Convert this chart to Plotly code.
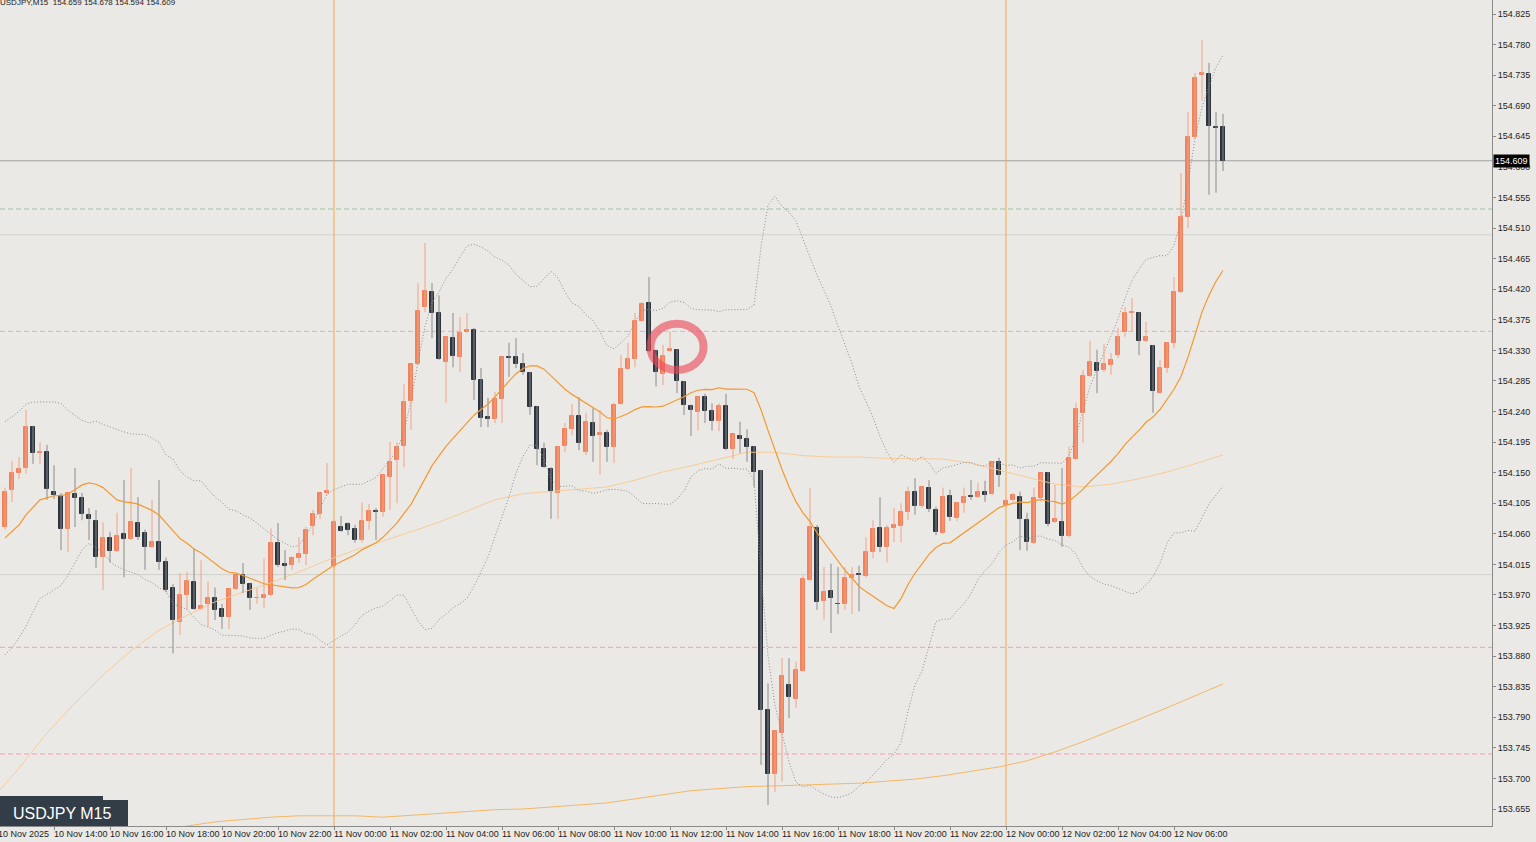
import numpy as np
import pandas as pd
import plotly.graph_objects as go

header = "USDJPY,M15  154.659 154.678 154.594 154.609"
badge = "USDJPY M15"
first_bar = "2025-11-10 12:15"
bar_minutes = 15

opens = [
    154.070, 154.125, 154.149, 154.157, 154.217, 154.179, 154.180, 154.122, 154.116, 154.067,
    154.119, 154.113, 154.088, 154.079, 154.026, 154.054, 154.035, 154.060, 154.052, 154.076,
    154.061, 154.041, 154.048, 154.019, 153.981, 153.930, 153.970, 153.989, 153.949, 153.957,
    153.966, 153.949, 153.937, 153.979, 153.999, 153.986, 153.965, 153.966, 153.970, 154.047,
    154.016, 154.014, 154.024, 154.030, 154.072, 154.089, 154.120,
    154.013, 154.070, 154.075, 154.067, 154.051, 154.079, 154.094, 154.092, 154.144, 154.169,
    154.189, 154.255, 154.310, 154.394, 154.416, 154.385, 154.313, 154.348, 154.320, 154.357,
    154.360, 154.286, 154.232, 154.229, 154.258, 154.320, 154.320, 154.310, 154.297, 154.247,
    154.185, 154.155, 154.120, 154.189, 154.214, 154.233, 154.180, 154.223, 154.205, 154.208,
    154.188, 154.251, 154.303, 154.317, 154.373, 154.400, 154.329, 154.295, 154.329, 154.331,
    154.283, 154.248, 154.239, 154.261, 154.241, 154.226, 154.248, 154.185, 154.204, 154.200,
    154.188, 154.152, 153.801, 153.707, 153.767, 153.837, 153.817, 153.858, 153.992, 154.069,
    153.961, 153.976, 153.957, 153.956, 153.995, 154.001, 153.998, 154.033, 154.069, 154.041,
    154.069, 154.072, 154.092, 154.122, 154.101, 154.128, 154.095, 154.061, 154.116, 154.083,
    154.105, 154.116, 154.114, 154.122, 154.119, 154.166, 154.102, 154.110, 154.114, 154.080,
    154.047, 154.113, 154.149, 154.077, 154.077, 154.057, 154.170, 154.238, 154.292, 154.311,
    154.301, 154.308, 154.323, 154.357, 154.385, 154.385, 154.344, 154.336, 154.267, 154.304,
    154.341, 154.416, 154.526, 154.644, 154.735, 154.737, 154.659, 154.659,
]
highs = [
    154.128, 154.167, 154.173, 154.242, 154.219, 154.195, 154.191, 154.161, 154.120, 154.120,
    154.157, 154.120, 154.098, 154.095, 154.077, 154.063, 154.091, 154.139, 154.157, 154.114,
    154.066, 154.110, 154.139, 154.025, 153.986, 154.002, 154.004, 154.039, 154.021, 153.990,
    153.981, 153.957, 153.979, 153.999, 154.017, 153.988, 153.980, 154.024, 154.068, 154.076,
    154.036, 154.027, 154.055, 154.070, 154.095, 154.120, 154.164,
    154.080, 154.086, 154.077, 154.073, 154.106, 154.104, 154.098, 154.147, 154.195, 154.195,
    154.280, 154.310, 154.429, 154.488, 154.429, 154.411, 154.350, 154.385, 154.379, 154.385,
    154.363, 154.304, 154.260, 154.269, 154.320, 154.341, 154.348, 154.326, 154.298, 154.248,
    154.194, 154.158, 154.188, 154.223, 154.251, 154.261, 154.238, 154.245, 154.242, 154.213,
    154.253, 154.323, 154.341, 154.385, 154.401, 154.438, 154.331, 154.338, 154.357, 154.332,
    154.285, 154.250, 154.261, 154.266, 154.252, 154.252, 154.266, 154.207, 154.225, 154.214,
    154.189, 154.154, 153.840, 153.770, 153.877, 153.877, 153.872, 153.999, 154.127, 154.073,
    154.011, 154.016, 154.011, 154.011, 154.011, 154.013, 154.055, 154.080, 154.114, 154.073,
    154.098, 154.105, 154.129, 154.142, 154.129, 154.139, 154.100, 154.128, 154.125, 154.107,
    154.128, 154.139, 154.135, 154.138, 154.166, 154.172, 154.111, 154.120, 154.122, 154.091,
    154.128, 154.149, 154.151, 154.132, 154.157, 154.188, 154.253, 154.301, 154.344, 154.331,
    154.339, 154.326, 154.363, 154.394, 154.407, 154.386, 154.372, 154.338, 154.316, 154.341,
    154.438, 154.591, 154.681, 154.738, 154.787, 154.753, 154.681, 154.678,
]
lows = [
    154.066, 154.107, 154.141, 154.149, 154.163, 154.163, 154.110, 154.111, 154.036, 154.033,
    154.070, 154.080, 154.051, 154.010, 153.977, 154.018, 154.033, 153.996, 154.051, 154.051,
    154.007, 154.039, 154.007, 153.974, 153.884, 153.911, 153.948, 153.948, 153.948, 153.923,
    153.933, 153.920, 153.920, 153.977, 153.973, 153.948, 153.957, 153.951, 153.968, 154.011,
    153.992, 154.007, 154.017, 154.014, 154.058, 154.082, 154.117,
    154.010, 154.063, 154.058, 154.047, 154.047, 154.066, 154.051, 154.085, 154.095, 154.105,
    154.158, 154.213, 154.309, 154.386, 154.348, 154.316, 154.253, 154.305, 154.298, 154.356,
    154.257, 154.217, 154.217, 154.223, 154.223, 154.291, 154.304, 154.294, 154.235, 154.161,
    154.157, 154.082, 154.082, 154.180, 154.205, 154.183, 154.176, 154.166, 154.147, 154.166,
    154.164, 154.250, 154.301, 154.305, 154.372, 154.328, 154.277, 154.279, 154.328, 154.267,
    154.235, 154.204, 154.212, 154.223, 154.212, 154.211, 154.183, 154.170, 154.179, 154.166,
    154.129, 153.720, 153.661, 153.680, 153.695, 153.789, 153.804, 153.857, 153.990, 153.948,
    153.934, 153.914, 153.942, 153.948, 153.942, 153.946, 153.996, 154.024, 154.033, 154.018,
    154.048, 154.047, 154.080, 154.088, 154.098, 154.092, 154.058, 154.060, 154.079, 154.079,
    154.091, 154.110, 154.113, 154.107, 154.117, 154.129, 154.099, 154.107, 154.036, 154.035,
    154.045, 154.107, 154.071, 154.076, 154.041, 154.055, 154.169, 154.194, 154.291, 154.267,
    154.298, 154.294, 154.319, 154.350, 154.357, 154.323, 154.342, 154.238, 154.266, 154.297,
    154.333, 154.414, 154.510, 154.642, 154.698, 154.559, 154.562, 154.594,
]
closes = [
    154.122, 154.149, 154.155, 154.217, 154.179, 154.180, 154.126, 154.117, 154.067, 154.120,
    154.113, 154.089, 154.082, 154.026, 154.054, 154.035, 154.057, 154.052, 154.077, 154.055,
    154.041, 154.048, 154.019, 153.978, 153.933, 153.970, 153.990, 153.949, 153.954, 153.966,
    153.948, 153.937, 153.979, 153.999, 153.986, 153.965, 153.966, 153.970, 154.047, 154.014,
    154.013, 154.024, 154.030, 154.066, 154.089, 154.120, 154.123,
    154.077, 154.064, 154.066, 154.051, 154.079, 154.094, 154.092, 154.147, 154.166, 154.188,
    154.254, 154.310, 154.388, 154.417, 154.385, 154.317, 154.350, 154.322, 154.356, 154.360,
    154.286, 154.231, 154.229, 154.258, 154.320, 154.319, 154.310, 154.298, 154.247, 154.185,
    154.158, 154.123, 154.188, 154.214, 154.233, 154.194, 154.224, 154.204, 154.208, 154.188,
    154.250, 154.303, 154.317, 154.373, 154.398, 154.329, 154.298, 154.322, 154.332, 154.285,
    154.250, 154.242, 154.261, 154.241, 154.226, 154.248, 154.185, 154.207, 154.200, 154.188,
    154.151, 153.801, 153.707, 153.770, 153.851, 153.820, 153.860, 153.993, 154.070, 153.960,
    153.974, 153.965, 153.956, 153.995, 153.999, 153.999, 154.033, 154.067, 154.041, 154.069,
    154.073, 154.092, 154.122, 154.101, 154.129, 154.097, 154.063, 154.114, 154.085, 154.105,
    154.114, 154.114, 154.122, 154.117, 154.166, 154.147, 154.108, 154.117, 154.082, 154.048,
    154.113, 154.149, 154.074, 154.082, 154.057, 154.172, 154.244, 154.292, 154.313, 154.300,
    154.310, 154.316, 154.350, 154.385, 154.386, 154.344, 154.350, 154.270, 154.304, 154.341,
    154.416, 154.526, 154.644, 154.731, 154.738, 154.660, 154.657, 154.609,
]

# Bollinger band values for the first 19 visible bars (history before them is off-screen)
bb_head_upper = [154.225, 154.233, 154.240, 154.251, 154.254, 154.254, 154.254, 154.254, 154.252, 154.242,
                 154.234, 154.227, 154.223, 154.226, 154.221, 154.217, 154.213, 154.210, 154.207]
bb_head_mid = [154.054, 154.063, 154.073, 154.088, 154.099, 154.110, 154.113, 154.116, 154.116, 154.119,
               154.125, 154.132, 154.135, 154.133, 154.128, 154.119, 154.110, 154.107, 154.106]
bb_head_lower = [153.882, 153.892, 153.907, 153.924, 153.945, 153.965, 153.971, 153.977, 153.984, 153.999,
                 154.018, 154.036, 154.046, 154.040, 154.033, 154.019, 154.012, 154.007, 154.004]

# slow moving averages, read every 4th bar, ending on the last bar
ma_a_every4 = [153.668, 153.715, 153.767, 153.811, 153.852, 153.888, 153.918, 153.940, 153.960, 153.974,
               153.988, 154.004, 154.021, 154.036, 154.049, 154.063, 154.077, 154.093, 154.110, 154.119,
               154.122, 154.125, 154.129, 154.139, 154.151, 154.160, 154.170, 154.180, 154.180, 154.175,
               154.173, 154.173, 154.171, 154.171, 154.170, 154.164, 154.154, 154.143, 154.133, 154.129,
               154.133, 154.141, 154.151, 154.163, 154.176]
ma_b_every4 = [None, None, None, None, None, None, 153.616, 153.630, 153.636, 153.640,
               153.643, 153.645, 153.645, 153.645, 153.643, 153.646, 153.649, 153.652, 153.654, 153.655,
               153.658, 153.661, 153.664, 153.670, 153.676, 153.682, 153.685, 153.688, 153.689, 153.690,
               153.692, 153.693, 153.696, 153.699, 153.704, 153.710, 153.717, 153.726, 153.739, 153.754,
               153.770, 153.787, 153.804, 153.821, 153.839]

level_prices = [154.538, 154.500, 154.358, 154.000, 153.893, 153.736]
level_colors = ["#9cc4a6", "#d3d1cc", "#d7b8c0", "#d3d1cc", "#eba0b8", "#eba0b8"]
level_dashes = ["5px,3px", "solid", "5px,3px", "solid", "5px,3px", "5px,3px"]

tick_times = ["2025-11-10 12:00", "2025-11-10 14:00", "2025-11-10 16:00", "2025-11-10 18:00",
              "2025-11-10 20:00", "2025-11-10 22:00", "2025-11-11 00:00", "2025-11-11 02:00",
              "2025-11-11 04:00", "2025-11-11 06:00", "2025-11-11 08:00", "2025-11-11 10:00",
              "2025-11-11 12:00", "2025-11-11 14:00", "2025-11-11 16:00", "2025-11-11 18:00",
              "2025-11-11 20:00", "2025-11-11 22:00", "2025-11-12 00:00", "2025-11-12 02:00",
              "2025-11-12 04:00", "2025-11-12 06:00"]
tick_labels = ["10 Nov 2025", "10 Nov 14:00", "10 Nov 16:00", "10 Nov 18:00", "10 Nov 20:00",
               "10 Nov 22:00", "11 Nov 00:00", "11 Nov 02:00", "11 Nov 04:00", "11 Nov 06:00",
               "11 Nov 08:00", "11 Nov 10:00", "11 Nov 12:00", "11 Nov 14:00", "11 Nov 16:00",
               "11 Nov 18:00", "11 Nov 20:00", "11 Nov 22:00", "12 Nov 00:00", "12 Nov 02:00",
               "12 Nov 04:00", "12 Nov 06:00"]

circle_time = "2025-11-11 12:15"
circle_price = 154.335
circle_half_bars = 3.8
circle_half_price = 0.034

# ---------------------------------------------------------------- styling
BG = "#ebe9e5"
BULL = "#f0835d"
BEAR = "#2c343d"
BULL_WICK = "#f2a185"
BEAR_WICK = "#8a8a8a"
MID = "#f5982f"
MA_A = "#f7cc98"
MA_B = "#f4b866"
SEP = "#f8a548"
FONT = "Liberation Sans"

o = np.array(opens); h = np.array(highs); l = np.array(lows); c = np.array(closes)
n = len(c)
times = pd.date_range(first_bar, periods=n, freq=f"{bar_minutes}min")
x = np.arange(n)


def pos(t):
    return (pd.Timestamp(t) - times[0]) / pd.Timedelta(minutes=bar_minutes)


# Bollinger bands (20, 2) computed from closes, head from chart
s = pd.Series(c)
mid = s.rolling(20).mean().to_numpy()
sd = s.rolling(20).std(ddof=0).to_numpy()
upper = mid + 2 * sd
lower = mid - 2 * sd
k = len(bb_head_mid)
mid[:k] = bb_head_mid
upper[:k] = bb_head_upper
lower[:k] = bb_head_lower

ma_x = (n - 1) - 4 * np.arange(len(ma_a_every4))[::-1]

PX_W = 1492
PX_H = 826
bar_px = 7.0
x0 = -5 / bar_px
x1 = x0 + PX_W / bar_px
y_lo, y_hi = 153.630, 154.8456

fig = go.Figure()

# indicators behind candles
fig.add_trace(go.Scatter(x=ma_x, y=ma_b_every4, mode="lines", line=dict(color=MA_B, width=1), hoverinfo="skip"))
fig.add_trace(go.Scatter(x=ma_x, y=ma_a_every4, mode="lines", line=dict(color=MA_A, width=1), hoverinfo="skip"))
fig.add_trace(go.Scatter(x=x, y=upper, mode="lines", line=dict(color="#8e8e8e", width=1, dash="1px,2px"), hoverinfo="skip"))
fig.add_trace(go.Scatter(x=x, y=lower, mode="lines", line=dict(color="#8e8e8e", width=1, dash="1px,2px"), hoverinfo="skip"))

up = c >= o
for mask, wick_col, body_col in [(up, BULL_WICK, BULL), (~up, BEAR_WICK, BEAR)]:
    idx = np.where(mask)[0]
    wx, wy = [], []
    for i in idx:
        wx += [i, i, None]
        wy += [l[i], h[i], None]
    fig.add_trace(go.Scatter(x=wx, y=wy, mode="lines", line=dict(color=wick_col, width=1), hoverinfo="skip"))
    base = np.minimum(o[idx], c[idx])
    height = np.maximum(np.abs(c[idx] - o[idx]), 0.0006)
    fig.add_trace(go.Bar(x=idx, base=base, y=height, width=0.62,
                         marker=dict(color=body_col, line=dict(color=body_col, width=1)),
                         hoverinfo="skip"))

fig.add_trace(go.Scatter(x=x, y=mid, mode="lines", line=dict(color=MID, width=1.2), hoverinfo="skip"))

shapes = []
for p, col, d in zip(level_prices, level_colors, level_dashes):
    shapes.append(dict(type="line", xref="paper", x0=0, x1=1, yref="y", y0=p, y1=p,
                       line=dict(color=col, width=1, dash=d), layer="below"))
# current price line
shapes.append(dict(type="line", xref="paper", x0=0, x1=1, yref="y", y0=c[-1], y1=c[-1],
                   line=dict(color="#a3a3a3", width=1), layer="below"))
# day separators
for i, t in enumerate(times):
    if t.hour == 0 and t.minute == 0:
        shapes.append(dict(type="line", xref="x", x0=i, x1=i, yref="paper", y0=0, y1=1,
                           line=dict(color=SEP, width=1), layer="below"))
# highlight ellipse
cx = pos(circle_time)
shapes.append(dict(type="circle", xref="x", yref="y",
                   x0=cx - circle_half_bars, x1=cx + circle_half_bars,
                   y0=circle_price - circle_half_price, y1=circle_price + circle_half_price,
                   line=dict(color="rgba(238,72,88,0.62)", width=8), layer="above"))
# badge
shapes.append(dict(type="rect", xref="paper", yref="paper", x0=0, x1=103 / PX_W,
                   y0=26 / PX_H, y1=30 / PX_H, fillcolor="#333d48", line=dict(width=0)))
shapes.append(dict(type="rect", xref="paper", yref="paper", x0=0, x1=128 / PX_W,
                   y0=0, y1=26 / PX_H, fillcolor="#333d48", line=dict(width=0)))

annotations = []
for t, lab in zip(tick_times, tick_labels):
    px = (pos(t) - x0) / (x1 - x0)
    annotations.append(dict(x=px, y=0, xref="paper", yref="paper", xanchor="left", yanchor="top",
                            text=lab, showarrow=False, yshift=-1, xshift=-2,
                            font=dict(family=FONT, size=9, color="#1e1e1e")))
annotations.append(dict(x=0, y=1, xref="paper", yref="paper", xanchor="left", yanchor="middle",
                        text=header, showarrow=False, yshift=-2, xshift=-2,
                        font=dict(family=FONT, size=8, color="#1e1e1e")))
annotations.append(dict(x=62 / PX_W, y=13 / PX_H, xref="paper", yref="paper", xanchor="center",
                        yanchor="middle", text=badge, showarrow=False,
                        font=dict(family=FONT, size=16, color="#ffffff")))
annotations.append(dict(x=1, y=c[-1], xref="paper", yref="y", xanchor="left", yanchor="middle",
                        text=f"{c[-1]:.3f}", showarrow=False, xshift=1, bgcolor="#000000",
                        borderpad=1, font=dict(family=FONT, size=9, color="#ffffff")))

fig.update_layout(
    width=1536, height=842,
    margin=dict(l=0, r=44, t=0, b=16),
    paper_bgcolor=BG, plot_bgcolor=BG,
    showlegend=False, barmode="overlay", bargap=0,
    hovermode=False,
    shapes=shapes, annotations=annotations,
    xaxis=dict(range=[x0, x1], showgrid=False, zeroline=False, showline=True,
               linecolor="#8a8a8a", linewidth=1, ticks="outside", ticklen=3, tickcolor="#8a8a8a",
               tickvals=[pos(t) for t in tick_times], showticklabels=False, fixedrange=True),
    yaxis=dict(range=[y_lo, y_hi], side="right", showgrid=False, zeroline=False, showline=True,
               linecolor="#8a8a8a", linewidth=1, ticks="outside", ticklen=3, tickcolor="#8a8a8a",
               tickmode="linear", tick0=153.655, dtick=0.045, tickformat=".3f",
               tickfont=dict(family=FONT, size=9, color="#1e1e1e"), fixedrange=True),
)

fig.write_html("out.html", config={"displayModeBar": False},
               post_script="document.body.style.margin='0';document.body.style.overflow='hidden';"
                           "document.body.style.background='" + BG + "';")
